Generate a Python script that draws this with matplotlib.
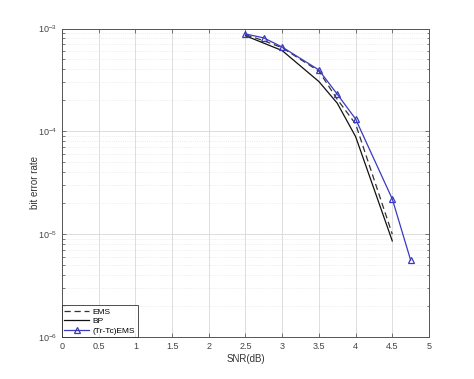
import matplotlib
matplotlib.use("Agg")
import matplotlib.pyplot as plt
from matplotlib.ticker import LogLocator, NullFormatter, FixedLocator

plt.rcParams['font.family'] = ['Liberation Sans', 'DejaVu Sans']

snr_ems = [2.5, 2.75, 3.0, 3.5, 3.75, 4.0, 4.5]
ber_ems = [8.7e-4, 7.6e-4, 6.5e-4, 3.85e-4, 2.05e-4, 1.18e-4, 1.0e-5]

snr_bp = [2.5, 3.0, 3.5, 3.75, 4.0, 4.5]
ber_bp = [8.5e-4, 6.1e-4, 3.05e-4, 1.88e-4, 8.9e-5, 8.6e-6]

snr_tr = [2.5, 2.75, 3.0, 3.5, 3.75, 4.0, 4.5, 4.75]
ber_tr = [8.85e-4, 8.1e-4, 6.6e-4, 3.95e-4, 2.3e-4, 1.32e-4, 2.2e-5, 5.6e-6]

xticks = [0, 0.5, 1, 1.5, 2, 2.5, 3, 3.5, 4, 4.5, 5]
xticklabels = ['0', '0.5', '1', '1.5', '2', '2.5', '3', '3.5', '4', '4.5', '5']

fig = plt.figure(figsize=(4.74, 3.79), dpi=100)
ax = fig.add_axes([0.1308, 0.1108, 0.7742, 0.8140])

ax.semilogy(snr_ems, ber_ems, linestyle=(0, (5, 3)), color='#333333', lw=0.9, label='EMS')
ax.semilogy(snr_bp, ber_bp, linestyle='-', color='#111111', lw=0.9, label='BP')
ax.semilogy(snr_tr, ber_tr, linestyle='-', color='#3a3ac0', lw=0.9, marker='^',
            markersize=5, markerfacecolor='none', markeredgecolor='#3a3ac0',
            markeredgewidth=0.9, label='(Tr-Tc)EMS')

ax.set_xlim(0, 5)
ax.set_ylim(1e-6, 1e-3)
ax.set_xticks(xticks)
ax.set_xticklabels(xticklabels)
ax.yaxis.set_major_locator(FixedLocator([1e-6, 1e-5, 1e-4, 1e-3]))
ax.yaxis.set_minor_locator(LogLocator(base=10, subs=range(2, 10)))
ax.yaxis.set_minor_formatter(NullFormatter())

ax.grid(True, which='major', color='#d8d8d8', lw=0.6)
ax.grid(True, which='minor', axis='y', color='#e0e0e0', lw=0.5, linestyle=':')

ax.tick_params(which='both', direction='in', top=True, right=True,
               labelsize=6.5, colors='#444444', length=3, width=0.5)
ax.tick_params(which='minor', length=1.8)
for s in ax.spines.values():
    s.set_color('#555555')
    s.set_linewidth(0.7)

ax.set_xlabel('SNR(dB)', fontsize=7, color='#333333', labelpad=2)
ax.set_ylabel('bit error rate', fontsize=7, color='#333333')
ax.yaxis.set_label_coords(-0.06, 0.5)

leg = ax.legend(loc='lower left', fontsize=6, frameon=True, fancybox=False,
                edgecolor='#222222', borderpad=0.3, labelspacing=0.2,
                handlelength=3.0, handletextpad=0.4, borderaxespad=0.0)
leg.get_frame().set_linewidth(0.7)

fig.savefig('out.png', dpi=100)
